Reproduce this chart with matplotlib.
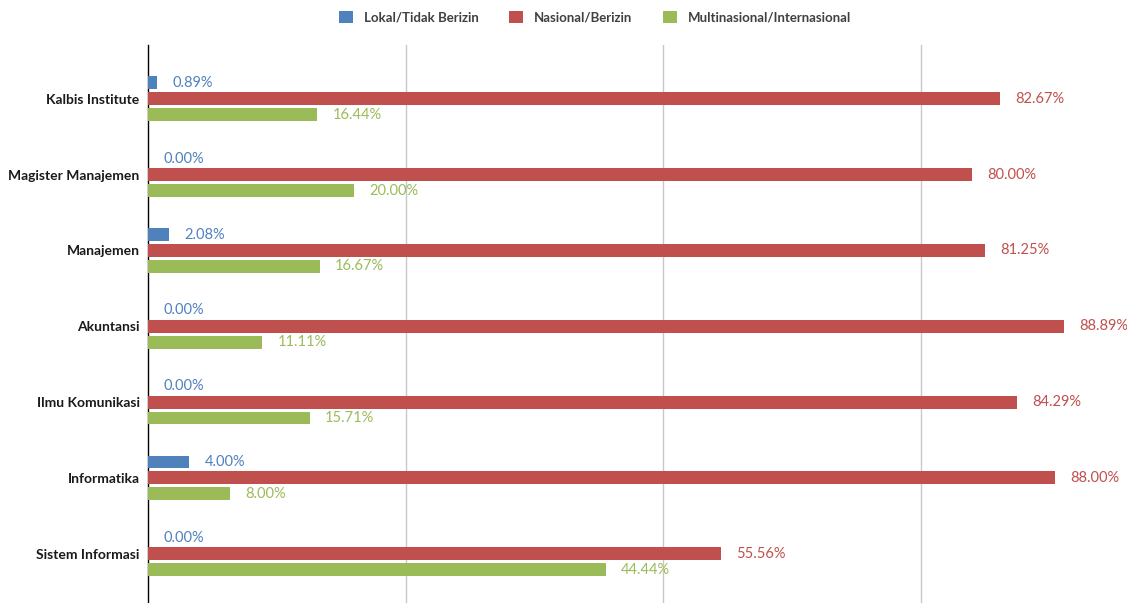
import numpy as np
import matplotlib.pyplot as plt
from matplotlib.patches import Patch

# dados
categorias = ["Kalbis Institute", "Magister Manajemen", "Manajemen", "Akuntansi",
              "Ilmu Komunikasi", "Informatika", "Sistem Informasi"]
lokal = [0.89, 0.00, 2.08, 0.00, 0.00, 4.00, 0.00]
nasional = [82.67, 80.00, 81.25, 88.89, 84.29, 88.00, 55.56]
multinasional = [16.44, 20.00, 16.67, 11.11, 15.71, 8.00, 44.44]

series = ["Lokal/Tidak Berizin", "Nasional/Berizin", "Multinasional/Internasional"]
cores = ["#4F81BD", "#C0504D", "#9BBB59"]

plt.rcParams["font.family"] = ["Lato", "DejaVu Sans"]

fig = plt.figure(figsize=(11.27, 6.03), dpi=100)
ax = fig.add_axes([148 / 1127, 0, 1 - 148 / 1127, 1 - 45 / 603])

y = np.arange(len(categorias))
altura = 0.17
desloc = 0.21

for i, (vals, cor) in enumerate(zip([lokal, nasional, multinasional], cores)):
    pos = y + (i - 1) * desloc
    ax.barh(pos, vals, height=altura, color=cor, zorder=3)
    for p, v in zip(pos, vals):
        ax.annotate(f"{v:.2f}%", xy=(v, p), xytext=(11, 0), textcoords="offset points",
                    va="center", ha="left", fontsize=10.5, color=cor)

ax.set_xlim(0, 95)
ax.set_ylim(len(categorias) - 1 + 0.65, -0.71)
ax.set_xticks([25, 50, 75])
ax.set_xticklabels([])
ax.tick_params(axis="x", length=0)
ax.tick_params(axis="y", length=0, pad=6)
ax.set_yticks(y)
ax.set_yticklabels(categorias, fontsize=10, fontweight="bold", color="#1a1a1a")
ax.grid(axis="x", color="#C8C8C8", linewidth=1, zorder=0)
for lado in ["top", "right", "bottom"]:
    ax.spines[lado].set_visible(False)
ax.spines["left"].set_color("black")
ax.spines["left"].set_linewidth(1)

handles = [Patch(facecolor=c, label=s) for s, c in zip(series, cores)]
leg = fig.legend(handles=handles, loc="center", bbox_to_anchor=(595 / 1127, 1 - 17 / 603),
                 ncol=3, frameon=False, handlelength=1.0, handleheight=1.0,
                 columnspacing=2.2, handletextpad=0.8)
for t in leg.get_texts():
    t.set_fontsize(9.5)
    t.set_fontweight("bold")
    t.set_color("#404040")

fig.savefig("out.png", dpi=100)
